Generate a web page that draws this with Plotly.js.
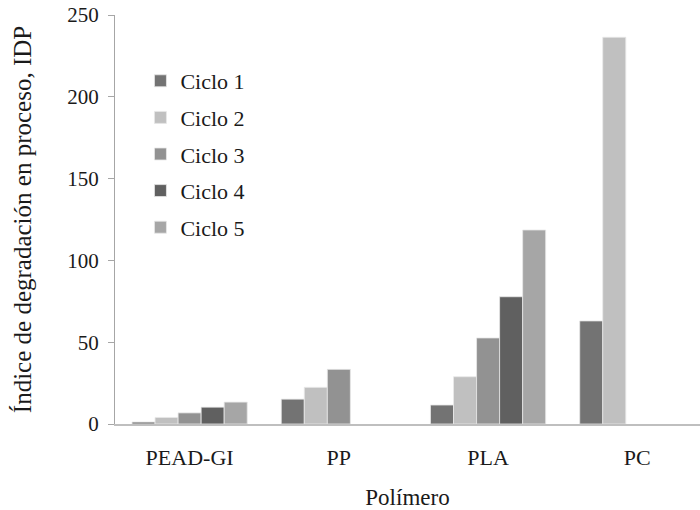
<!DOCTYPE html>
<html>
<head>
<meta charset="utf-8">
<script src="https://cdn.plot.ly/plotly-3.0.1.min.js"></script>
<style>html,body{margin:0;padding:0;background:#fff;}#chart{width:700px;height:510px;}</style>
</head>
<body>
<div id="chart"></div>
<script>
const categories = ["PEAD-GI", "PP", "PLA", "PC"];
const seriesNames = ["Ciclo 1", "Ciclo 2", "Ciclo 3", "Ciclo 4", "Ciclo 5"];
const ciclo1 = [1.2, 15.2, 11.6, 63];
const ciclo2 = [4, 22.4, 28.9, 236.4];
const ciclo3 = [6.8, 33.4, 52.6, null];
const ciclo4 = [10.3, null, 77.8, null];
const ciclo5 = [13.4, null, 118.6, null];
const seriesValues = [ciclo1, ciclo2, ciclo3, ciclo4, ciclo5];
const colors = ["#737373", "#c0c0c0", "#929292", "#606060", "#a6a6a6"];
const yTicks = [0, 50, 100, 150, 200, 250];

const font = "Liberation Serif, serif";
const txt = "#1a1a1a";
const traces = seriesNames.map((name, i) => ({
  type: "bar",
  name: name,
  x: categories,
  y: seriesValues[i],
  legendgroup: "g" + i,
  marker: {color: colors[i], line: {color: "#e8e8e8", width: 0.8}}
}));

const layout = {
  width: 700, height: 510,
  margin: {l: 115, r: 0, t: 15, b: 86},
  paper_bgcolor: "#fff", plot_bgcolor: "#fff",
  font: {family: font, size: 22, color: txt},
  barmode: "group",
  bargap: 0.228,
  bargroupgap: 0,
  showlegend: true,
  legend: {
    x: 0.0435, y: 0.89, xanchor: "left", yanchor: "top",
    font: {family: font, size: 22, color: txt},
    tracegroupgap: 5, itemwidth: 30, bgcolor: "rgba(0,0,0,0)"
  },
  xaxis: {
    type: "category",
    range: [-0.5, 3.42],
    showline: true, linecolor: "#bfbfbf", linewidth: 2,
    ticks: "", showgrid: false, zeroline: false,
    ticklabelstandoff: 13,
    tickfont: {family: font, size: 22, color: txt},
    title: {text: "Polímero", font: {family: font, size: 23, color: txt}, standoff: 22}
  },
  yaxis: {
    range: [0, 250],
    tickvals: yTicks,
    showline: true, linecolor: "#a6a6a6", linewidth: 1,
    ticks: "outside", ticklen: 6, tickcolor: "#a6a6a6",
    ticklabelstandoff: 5,
    showgrid: false, zeroline: false,
    tickfont: {family: font, size: 21, color: txt},
    title: {text: "Índice de degradación en proceso, IDP", font: {family: font, size: 25, color: txt}, standoff: 28}
  }
};

Plotly.newPlot("chart", traces, layout, {displayModeBar: false, staticPlot: true});
</script>
</body>
</html>
